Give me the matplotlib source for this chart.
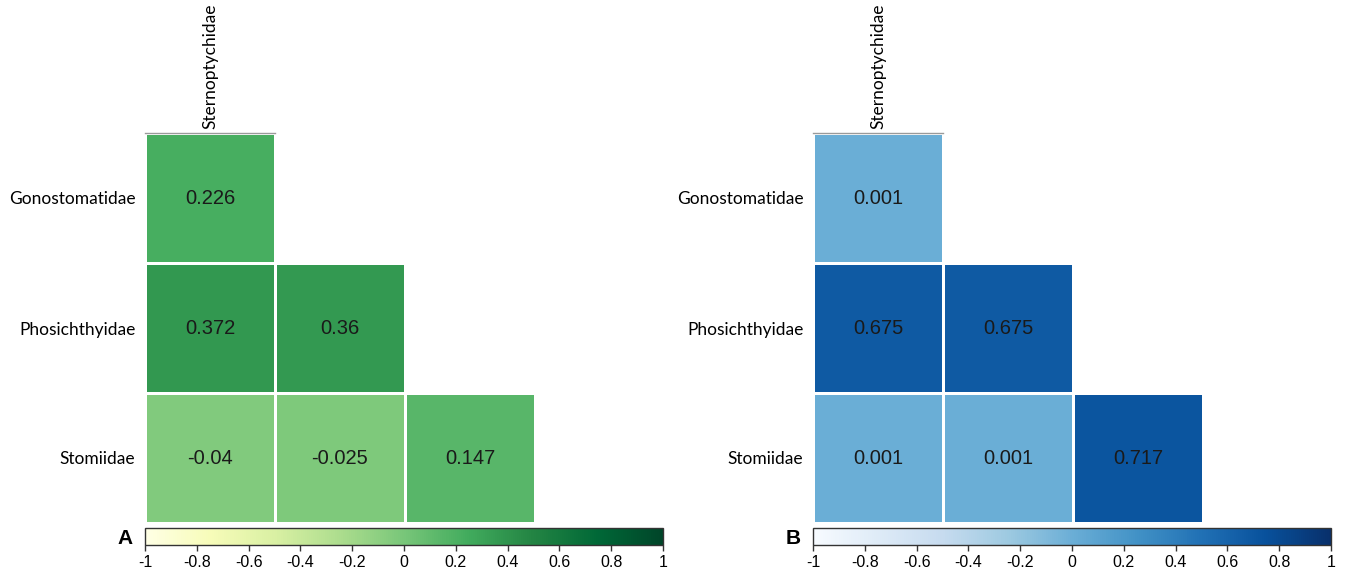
import numpy as np
import matplotlib
matplotlib.use("Agg")
import matplotlib.pyplot as plt
from matplotlib.colors import Normalize
from matplotlib.cm import ScalarMappable

row_labels = ["Gonostomatidae", "Phosichthyidae", "Stomiidae"]
col_labels = ["Sternoptychidae", "", ""]

# lower-triangular values (NaN = not drawn)
vals_A = [[0.226, np.nan, np.nan],
          [0.372, 0.36, np.nan],
          [-0.04, -0.025, 0.147]]
text_A = [["0.226", "", ""],
          ["0.372", "0.36", ""],
          ["-0.04", "-0.025", "0.147"]]
vals_B = [[0.001, np.nan, np.nan],
          [0.675, 0.675, np.nan],
          [0.001, 0.001, 0.717]]
text_B = [["0.001", "", ""],
          ["0.675", "0.675", ""],
          ["0.001", "0.001", "0.717"]]
cbar_ticks = [-1, -0.8, -0.6, -0.4, -0.2, 0, 0.2, 0.4, 0.6, 0.8, 1]
cbar_ticklabels = ["-1", "-0.8", "-0.6", "-0.4", "-0.2", "0", "0.2", "0.4", "0.6", "0.8", "1"]

W, H = 1348, 575
fig = plt.figure(figsize=(W / 100, H / 100), dpi=100)
norm = Normalize(-1, 1)

label_font = "Lato"
num_font = "Liberation Sans"


def panel(x0, vals, texts, cmap, letter):
    ax = fig.add_axes([x0 / W, (H - 523) / H, 390 / W, 390 / H])
    arr = np.ma.masked_invalid(np.array(vals, dtype=float))
    ax.pcolormesh(np.arange(4), np.arange(4), arr, cmap=cmap, norm=norm,
                  edgecolors="white", linewidth=1.0)
    ax.set_xlim(0, 3)
    ax.set_ylim(3, 0)
    for i in range(3):
        for j in range(3):
            if texts[i][j]:
                ax.text(j + 0.5, i + 0.5, texts[i][j], ha="center", va="center",
                        fontsize=14.5, family=num_font, color="#1a1a1a")
    # grey outline on top of first cell
    ax.plot([0, 1], [0, 0], color="#9a9a9a", lw=1.0, clip_on=False)
    for s in ax.spines.values():
        s.set_visible(False)
    ax.set_yticks([0.5, 1.5, 2.5])
    ax.set_yticklabels(row_labels, family=label_font, fontsize=12.5)
    ax.tick_params(axis="y", length=0, pad=7)
    ax.xaxis.tick_top()
    ax.set_xticks([0.5])
    ax.set_xticklabels([col_labels[0]], rotation=90, family=label_font, fontsize=12.5)
    ax.tick_params(axis="x", length=0, pad=3)

    cax = fig.add_axes([x0 / W, (H - 545) / H, 518 / W, 17 / H])
    cb = fig.colorbar(ScalarMappable(norm=norm, cmap=cmap), cax=cax,
                      orientation="horizontal")
    cb.set_ticks(cbar_ticks)
    cb.set_ticklabels(cbar_ticklabels)
    cax.tick_params(axis="x", length=4, width=1, color="#333333",
                    labelsize=11.5, pad=3)
    for lab in cax.get_xticklabels():
        lab.set_family(num_font)
    cb.outline.set_edgecolor("#333333")
    cb.outline.set_linewidth(1)
    fig.text((x0 - 20) / W, (H - 539) / H, letter, fontsize=15, fontweight="bold",
             family=num_font, ha="center", va="center")


panel(145, vals_A, text_A, plt.get_cmap("YlGn"), "A")
panel(813, vals_B, text_B, plt.get_cmap("Blues"), "B")

fig.savefig("out.png", dpi=100)
